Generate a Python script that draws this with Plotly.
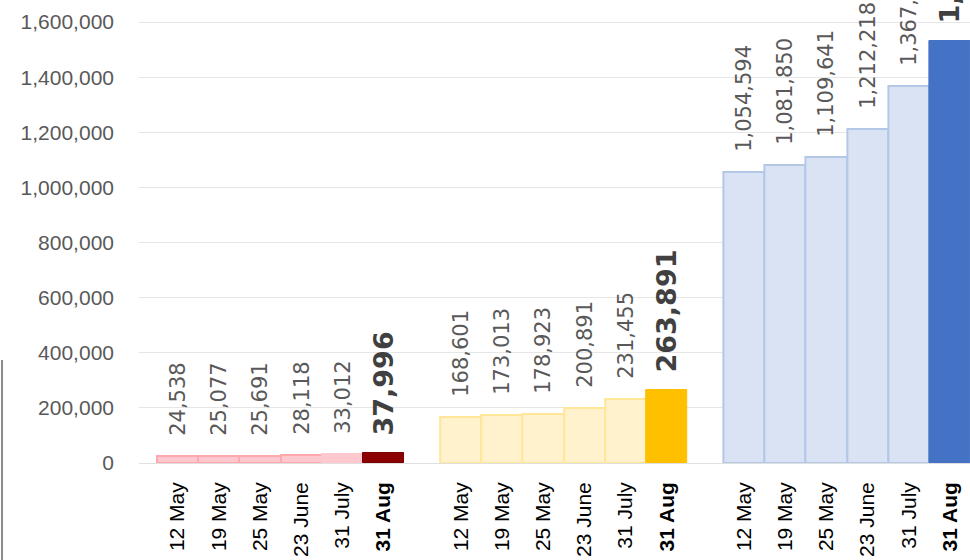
import plotly.graph_objects as go

# ---- data ----
categories = ["12 May", "19 May", "25 May", "23 June", "31 July", "31 Aug"]
red_values = [24538, 25077, 25691, 28118, 33012, 37996]
yellow_values = [168601, 173013, 178923, 200891, 231455, 263891]
blue_values = [1054594, 1081850, 1109641, 1212218, 1367536, 1532000]
y_ticks = [0, 200000, 400000, 600000, 800000, 1000000, 1200000, 1400000, 1600000]

# ---- styles ----
red_fill = ["#FFC7CE"] * 5 + ["#8B0000"]
red_line = ["#FFA9AF"] * 4 + ["#FFC7CE", "#7A0000"]
yellow_fill = ["#FFF2CC"] * 5 + ["#FFC000"]
yellow_line = ["#FFE699"] * 5 + ["#FFC000"]
blue_fill = ["#DAE3F3"] * 5 + ["#4472C4"]
blue_line = ["#B4C7E7"] * 5 + ["#4472C4"]
line_w = [2] * 5 + [1]

W, H = 970, 560
ML, MR, MT, MB = 139, 0, 0, 97
plot_w = W - ML - MR
bar_px = 41.2
pad_px = 18
group_px = 6 * bar_px + 2 * pad_px

PAD_N = "\u2002\u00a0"
PAD_B = "\u00a0\u2009"

groups = [
    (red_values, red_fill, red_line),
    (yellow_values, yellow_fill, yellow_line),
    (blue_values, blue_fill, blue_line),
]

fig = go.Figure()
layout_axes = {}
for i, (vals, fills, lines) in enumerate(groups):
    suffix = "" if i == 0 else str(i + 1)
    text = [PAD_N + f"{v:,}" for v in vals[:-1]] + [PAD_B + f"<b>{vals[-1]:,}</b>"]
    fig.add_trace(go.Bar(
        x=categories, y=vals,
        xaxis="x" + suffix, yaxis="y" + suffix,
        marker=dict(color=fills, line=dict(color=lines, width=line_w)),
        text=text, textposition="outside", textangle=-90,
        cliponaxis=False, constraintext="none",
        textfont=dict(family="DejaVu Sans", size=[21] * 5 + [27],
                      color=["#595959"] * 5 + ["#404040"]),
        showlegend=False, hoverinfo="x+y",
    ))
    x0_px = i * group_px
    x1_px = min((i + 1) * group_px, plot_w)
    start = -0.5 - pad_px / bar_px
    end = start + (x1_px - x0_px) / bar_px
    ticktext = categories[:-1] + [f"<b>{categories[-1]}</b>"]
    layout_axes["xaxis" + suffix] = dict(
        domain=[x0_px / plot_w, x1_px / plot_w],
        anchor="y" + suffix, type="category",
        range=[start, end],
        tickmode="array", tickvals=categories, ticktext=ticktext,
        tickangle=-90, ticklabelstandoff=14,
        tickfont=dict(family="Liberation Sans", size=21, color="#000000"),
        showgrid=False, showline=False, zeroline=False, ticks="",
    )
    yax = dict(
        anchor="x" + suffix, range=[0, 1680000],
        tickmode="array", tickvals=y_ticks,
        ticktext=[f"{t:,}" for t in y_ticks],
        showgrid=True, gridcolor="#E6E6E6", gridwidth=1,
        zeroline=True, zerolinecolor="#E0E0E0", zerolinewidth=1,
        showline=False, ticks="",
        tickfont=dict(family="Liberation Sans", size=21, color="#595959"),
        ticklabelstandoff=24,
    )
    if i > 0:
        yax["showticklabels"] = False
        yax["matches"] = "y"
    layout_axes["yaxis" + suffix] = yax

plot_h = H - MT - MB
fig.update_layout(
    width=W, height=H,
    margin=dict(l=ML, r=MR, t=MT, b=MB),
    paper_bgcolor="white", plot_bgcolor="white",
    bargap=0,
    **layout_axes,
)
fig.add_shape(
    type="line", xref="paper", yref="paper",
    x0=(2 - ML) / plot_w, x1=(2 - ML) / plot_w,
    y0=(H - MB - 360) / plot_h, y1=-(MB + 5) / plot_h,
    line=dict(color="#8C8C8C", width=2),
)

fig.write_html(
    "out.html",
    config={"displayModeBar": False},
    post_script="document.body.style.margin='0';document.body.style.overflow='hidden';",
)
